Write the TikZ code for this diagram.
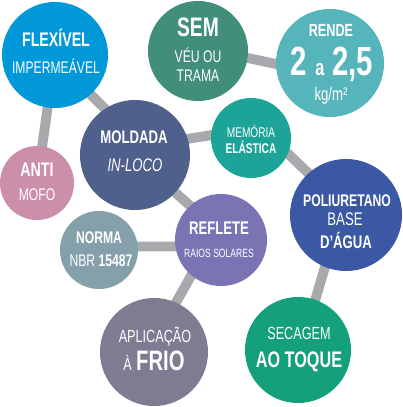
\documentclass[tikz,border=0pt]{standalone}
\usepackage{fontspec}
\setmainfont{Liberation Sans}[FakeStretch=0.72]
\usetikzlibrary{backgrounds}

\definecolor{cFlex}{RGB}{0,152,216}
\definecolor{cSem}{RGB}{65,142,123}
\definecolor{cRende}{RGB}{85,181,186}
\definecolor{cMem}{RGB}{27,164,151}
\definecolor{cMold}{RGB}{80,96,140}
\definecolor{cAnti}{RGB}{203,143,170}
\definecolor{cNorma}{RGB}{132,160,170}
\definecolor{cRefl}{RGB}{122,116,181}
\definecolor{cPoli}{RGB}{58,88,164}
\definecolor{cAplic}{RGB}{126,123,147}
\definecolor{cSec}{RGB}{19,160,122}
\definecolor{cLink}{RGB}{167,169,172}

\newcommand{\regf}[1]{\fontsize{#1}{#1}\selectfont}
\newcommand{\boldf}[1]{\fontsize{#1}{#1}\selectfont\bfseries}

\tikzset{
  bub/.style={circle, minimum size=#1*0.05cm, inner sep=0pt},
  txt/.style={anchor=base, inner sep=0pt, text=white},
  link/.style={draw=cLink, line width=7pt, shorten <=-6pt, shorten >=-6pt}
}

\begin{document}
\begin{tikzpicture}[x=0.025cm, y=-0.025cm]
        \useasboundingbox (0,0) rectangle (402,407);
        % bubbles
        \node[bub=53, fill=cFlex]  (Flex)  at (55,55)   {};
        \node[bub=50, fill=cSem]   (Sem)   at (198,51)  {};
        \node[bub=54, fill=cRende] (Rende) at (330,63)  {};
        \node[bub=40, fill=cMem]   (Mem)   at (251,138) {};
        \node[bub=55, fill=cMold]  (Mold)  at (135,155) {};
        \node[bub=37, fill=cAnti]  (Anti)  at (37,183)  {};
        \node[bub=39, fill=cNorma] (Norma) at (99,250)  {};
        \node[bub=46, fill=cRefl]  (Refl)  at (221,240) {};
        \node[bub=56, fill=cPoli]  (Poli)  at (346,215) {};
        \node[bub=54, fill=cAplic] (Aplic) at (154,352) {};
        \node[bub=53, fill=cSec]   (Sec)   at (298,350) {};
        % texts
        \node[txt, font=\boldf{14}] (Flex1) at (56,47) {FLEXÍVEL};
        \node[txt, font=\regf{12}]  (Flex2) at (56,73) {IMPERMEÁVEL};
        \node[txt, font=\boldf{19}] (Sem1) at (198,37) {SEM};
        \node[txt, font=\regf{12}]  (Sem2) at (198,63) {VÉU OU};
        \node[txt, font=\regf{12}]  (Sem3) at (198,82) {TRAMA};
        \node[txt, font=\boldf{12.5}] (Rende1) at (331,37) {RENDE};
        \node[txt, font=\boldf{29}] (Rende2) at (332,76) {2 {\boldf{16}a} 2,5};
        \node[txt, font=\regf{13}]  (Rende3) at (331,100) {kg/m²};
        \node[txt, font=\regf{10}]  (Mem1) at (251,137) {MEMÓRIA};
        \node[txt, font=\boldf{10}] (Mem2) at (251,153) {ELÁSTICA};
        \node[txt, font=\boldf{13}] (Mold1) at (134,143) {MOLDADA};
        \node[txt, font=\regf{13}\itshape] (Mold2) at (135,171) {IN-LOCO};
        \node[txt, font=\boldf{14}] (Anti1) at (37,176) {ANTI};
        \node[txt, font=\regf{12}]  (Anti2) at (37,200) {MOFO};
        \node[txt, font=\boldf{12}] (Norma1) at (99,243) {NORMA};
        \node[txt, font=\regf{12}]  (Norma2) at (101,266) {NBR \textbf{15487}};
        \node[txt, font=\boldf{13}] (Refl1) at (219,234) {REFLETE};
        \node[txt, font=\regf{8.5}] (Refl2) at (219,257) {RAIOS SOLARES};
        \node[txt, font=\boldf{12}] (Poli1) at (347,206) {POLIURETANO};
        \node[txt, font=\regf{13}]  (Poli2) at (345,225) {BASE};
        \node[txt, font=\boldf{13}] (Poli3) at (346,248) {D’ÁGUA};
        \node[txt, font=\regf{12.5}] (Aplic1) at (155,342) {APLICAÇÃO};
        \node[txt, font=\regf{12.5}] (Aplic2) at (154,370) {À\hspace{3pt}{\boldf{20}FRIO}};
        \node[txt, font=\regf{12.5}]  (Sec1) at (299,339) {SECAGEM};
        \node[txt, font=\boldf{16}] (Sec2) at (299,367) {AO TOQUE};
        % links
        \begin{scope}[on background layer]
                \draw[link] (Flex) -- (Anti);
                \draw[link] (Flex.-48) -- (Mold.123);
                \draw[link] (Sem.-8) -- (Rende.181);
                \draw[link] (Mold.17) -- (Mem.176);
                \draw[link] (Mem.-23) -- (Poli.132);
                \draw[link] (Mold.-43) -- (Refl.132);
                \draw[link] (Norma.5) -- (Refl.188);
                \draw[link] (Refl.230) -- (Aplic.66);
                \draw[link] (Poli.248) -- (Sec.71);
        \end{scope}
\end{tikzpicture}
\end{document}
